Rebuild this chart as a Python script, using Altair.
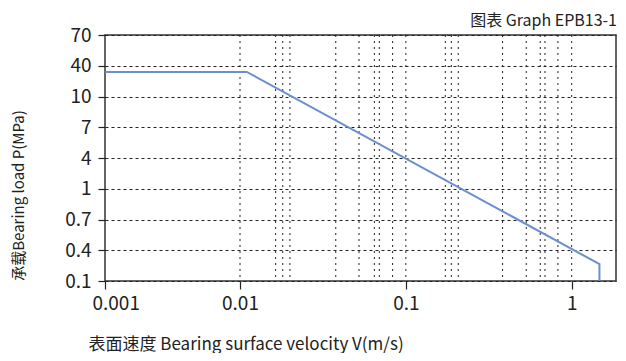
import altair as alt
import pandas as pd

# ---- data ----
velocity = [0.001, 0.011, 1.47, 1.47]          # V (m/s)
load = [34, 34, 0.265, 0.1]                      # P (MPa)
order = [0, 1, 2, 3]

y_ticks = [0.1, 0.4, 0.7, 1, 4, 7, 10, 40, 70]
x_ticks = [0.001, 0.01, 0.1, 1]
x_grid = [0.01, 0.0164, 0.0181, 0.02, 0.0378, 0.0522, 0.0646, 0.0692, 0.0832,
          0.1, 0.173, 0.188, 0.207, 0.383, 0.532, 0.646, 0.690, 0.826, 1]

graph_label = "图表 Graph EPB13-1"
x_title = "表面速度 Bearing surface velocity V(m/s)"
y_title = "承载Bearing load P(MPa)"

# ---- layout ----
W, H = 511, 246
FONT = "Noto Sans CJK SC"
TXT = "#222222"
LINE = "#6c8fd0"

line_df = pd.DataFrame({"V": velocity, "P": load, "i": order})
grid_df = pd.DataFrame({"V": x_grid})
label_df = pd.DataFrame({"t": [graph_label]})

x_scale = alt.Scale(type="log", domain=[0.001, 0.01, 1.85], range=[0, 135, W],
                    nice=False, clamp=False)
y_scale = alt.Scale(type="linear", domain=y_ticks,
                    range=[H - k * H / (len(y_ticks) - 1) for k in range(len(y_ticks))],
                    nice=False, zero=False)

x_axis = alt.Axis(values=x_ticks, labelExpr="datum.value + ''", grid=False, domain=False,
                  tickSize=8, tickColor=TXT, tickWidth=1.2,
                  labelFontSize=19, labelFont=FONT, labelColor=TXT, labelPadding=5,
                  labelFlush=True, labelFlushOffset=13, labelOverlap=False,
                  title=x_title, titleFont=FONT, titleFontSize=17, titleColor=TXT,
                  titleFontWeight="normal", titleX=-17, titleY=68,
                  titleAlign="left", titleBaseline="alphabetic", titleAnchor="start")
y_axis = alt.Axis(values=y_ticks, labelExpr="datum.value + ''", grid=True, gridDash=[3, 3],
                  gridColor="#222222", gridWidth=1, domain=False,
                  tickSize=7, tickColor=TXT, tickWidth=1.2,
                  labelFontSize=19, labelFont=FONT, labelColor=TXT, labelPadding=7,
                  labelFlush=False, labelOverlap=False,
                  title=y_title, titleFont=FONT, titleFontSize=15, titleColor=TXT,
                  titleFontWeight="normal", titleAngle=-90, titleX=-87, titleY=160,
                  titleAlign="center", titleBaseline="middle")

vgrid = alt.Chart(grid_df).mark_rule(color="#222222", strokeWidth=1,
                                       strokeDash=[2, 4]).encode(
    x=alt.X("V:Q", scale=x_scale, axis=x_axis),
)

hgrid_axis = alt.Chart(line_df).mark_point(opacity=0).encode(
    x=alt.X("V:Q", scale=x_scale, axis=x_axis),
    y=alt.Y("P:Q", scale=y_scale, axis=y_axis),
)

curve = alt.Chart(line_df).mark_line(color=LINE, strokeWidth=2).encode(
    x=alt.X("V:Q", scale=x_scale, axis=x_axis),
    y=alt.Y("P:Q", scale=y_scale, axis=y_axis),
    order="i:Q",
)

glabel = alt.Chart(label_df).mark_text(
    align="right", baseline="alphabetic", fontSize=16, font=FONT, color=TXT
).encode(x=alt.value(W + 1), y=alt.value(-9), text="t:N")

chart = alt.layer(hgrid_axis, vgrid, curve, glabel).properties(
    width=W, height=H,
    autosize=alt.AutoSizeParams(type="none"),
    padding={"left": 97, "top": 27, "right": 2, "bottom": 72},
    background="white",
).configure_view(stroke="#333333", strokeWidth=1.5)

chart.save("out.html", embed_options={"renderer": "svg", "actions": False})
